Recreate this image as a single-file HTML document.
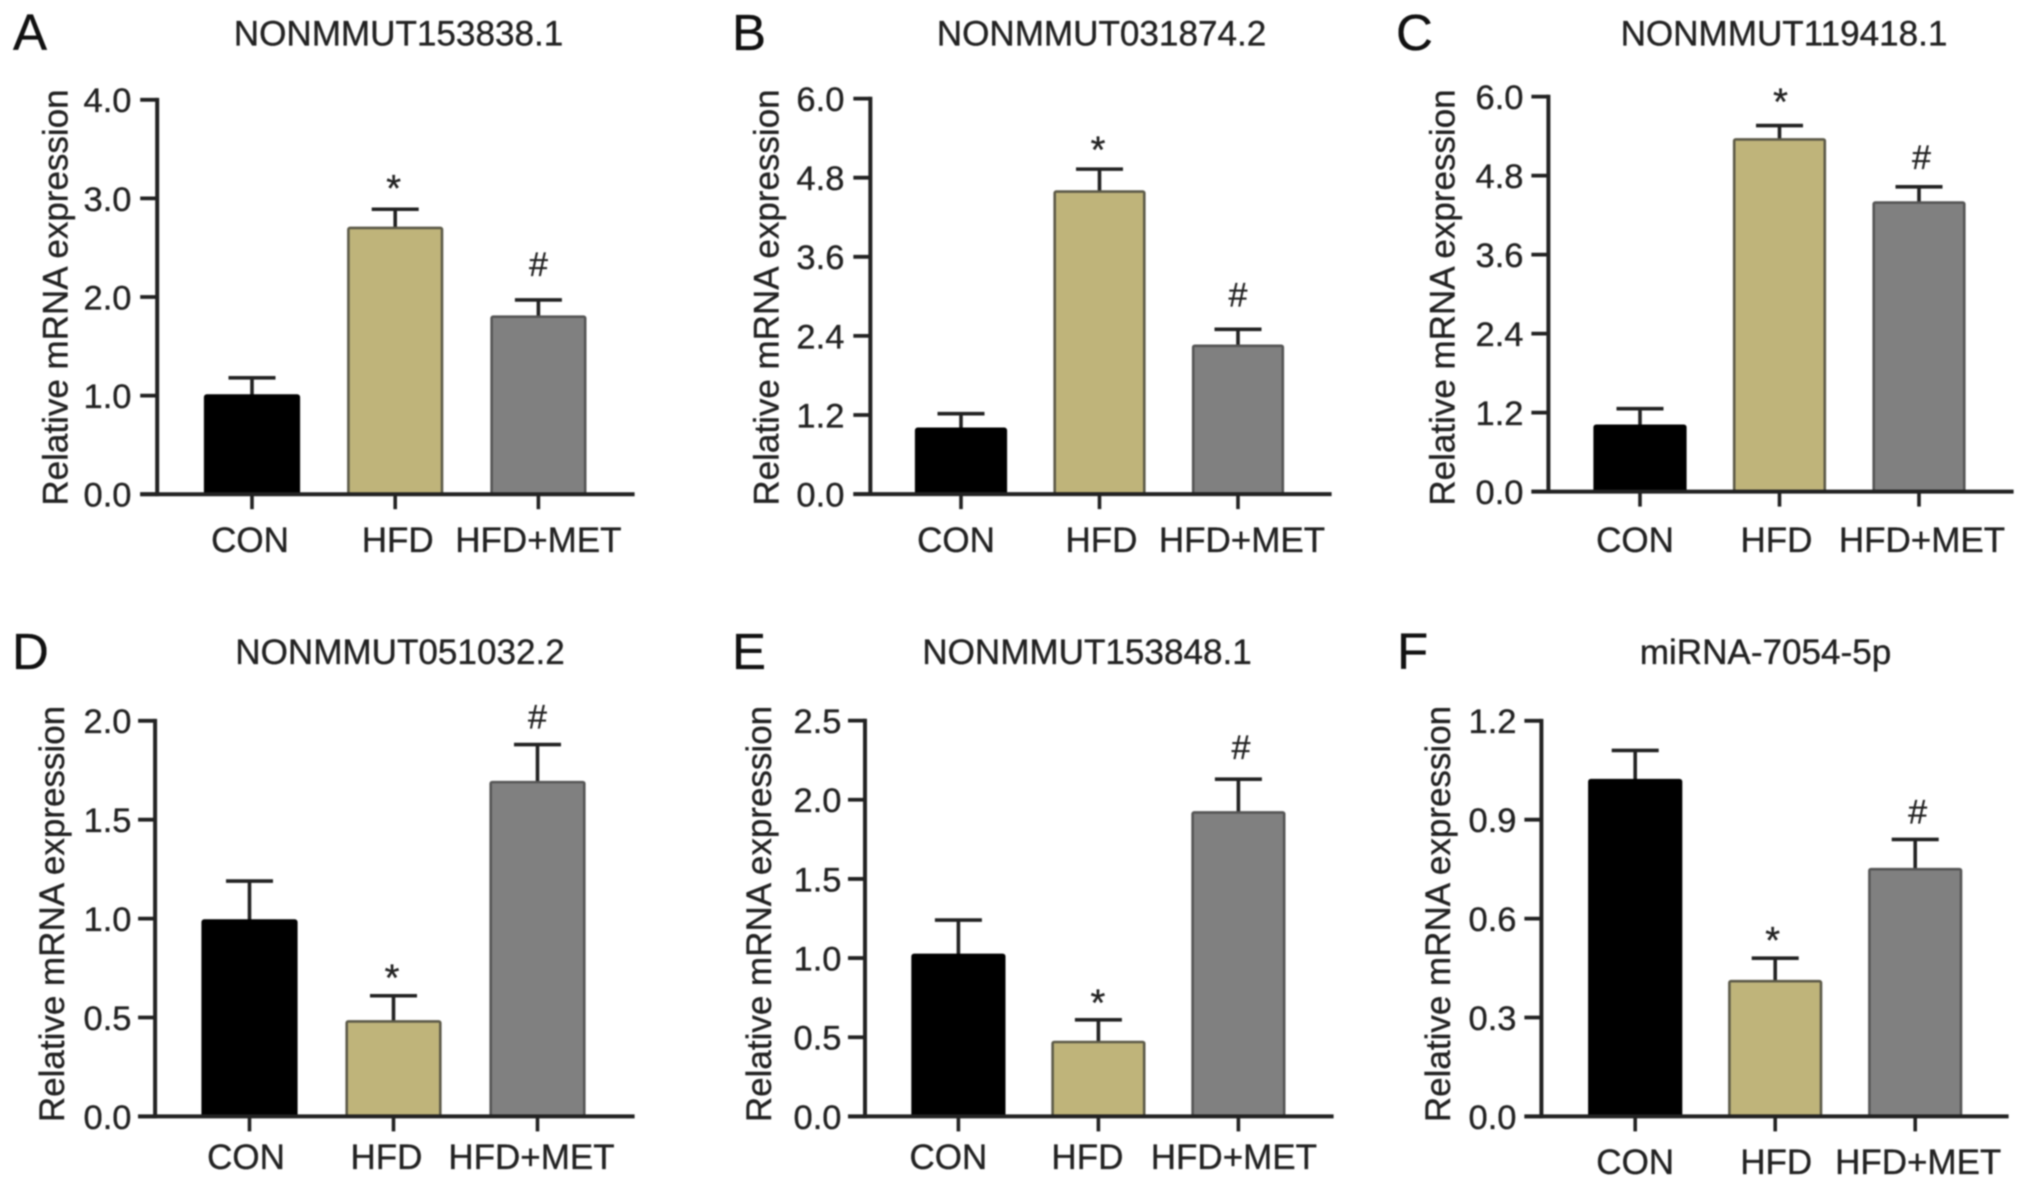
<!DOCTYPE html>
<html lang="en">
<head>
<meta charset="utf-8">
<title>Relative mRNA expression panels</title>
<style>
  html, body { margin: 0; padding: 0; background: #fff; }
  svg { display: block; filter: blur(0.7px); }
  text { font-family: "Liberation Sans", sans-serif; fill: #222; stroke: #222; stroke-width: 0.35px; }
  .title { font-size: 35.1px; text-anchor: middle; }
  .letter { font-size: 51px; fill: #111; stroke: #111; }
  .ytitle { font-size: 35px; text-anchor: middle; }
</style>
</head>
<body>
<svg id="figure" xmlns="http://www.w3.org/2000/svg" width="2032" height="1186" viewBox="0 0 2032 1186">
  <rect width="2032" height="1186" fill="#fff"/>

  <g id="panel-a">
    <text class="letter" x="13" y="50">A</text>
    <text class="title" x="398.5" y="45.5">NONMMUT153838.1</text>
    <text class="ytitle" transform="translate(67.7 297.5) rotate(-90)">Relative mRNA expression</text>
  </g>
  <g id="panel-b">
    <text class="letter" x="732" y="50">B</text>
    <text class="title" x="1101.5" y="45.5">NONMMUT031874.2</text>
    <text class="ytitle" transform="translate(778.5 297.5) rotate(-90)">Relative mRNA expression</text>
  </g>
  <g id="panel-c">
    <text class="letter" x="1396" y="50">C</text>
    <text class="title" x="1784" y="45.5">NONMMUT119418.1</text>
    <text class="ytitle" transform="translate(1454.7 297.5) rotate(-90)">Relative mRNA expression</text>
  </g>
  <g id="panel-d">
    <text class="letter" x="12" y="669.2">D</text>
    <text class="title" x="400" y="664.2">NONMMUT051032.2</text>
    <text class="ytitle" transform="translate(63.8 914) rotate(-90)">Relative mRNA expression</text>
  </g>
  <g id="panel-e">
    <text class="letter" x="732" y="669.2">E</text>
    <text class="title" x="1087" y="664.2">NONMMUT153848.1</text>
    <text class="ytitle" transform="translate(771 914) rotate(-90)">Relative mRNA expression</text>
  </g>
  <g id="panel-f">
    <text class="letter" x="1397" y="669.2">F</text>
    <text class="title" x="1765.5" y="664.2">miRNA-7054-5p</text>
    <text class="ytitle" transform="translate(1450 914) rotate(-90)">Relative mRNA expression</text>
  </g>
</svg>

<script>
// ---- Data ----
const categories = ['CON', 'HFD', 'HFD+MET'];

const meansA = [1.0, 2.7, 1.8];
const errorsA = [0.18, 0.19, 0.17];
const marksA = ['', '*', '#'];
const tickLabelsA = ['0.0', '1.0', '2.0', '3.0', '4.0'];

const meansB = [0.99, 4.59, 2.25];
const errorsB = [0.23, 0.34, 0.25];
const marksB = ['', '*', '#'];
const tickLabelsB = ['0.0', '1.2', '2.4', '3.6', '4.8', '6.0'];

const meansC = [1.0, 5.35, 4.39];
const errorsC = [0.26, 0.21, 0.24];
const marksC = ['', '*', '#'];
const tickLabelsC = ['0.0', '1.2', '2.4', '3.6', '4.8', '6.0'];

const meansD = [0.99, 0.48, 1.69];
const errorsD = [0.2, 0.13, 0.19];
const marksD = ['', '*', '#'];
const tickLabelsD = ['0.0', '0.5', '1.0', '1.5', '2.0'];

const meansE = [1.02, 0.47, 1.92];
const errorsE = [0.22, 0.14, 0.21];
const marksE = ['', '*', '#'];
const tickLabelsE = ['0.0', '0.5', '1.0', '1.5', '2.0', '2.5'];

const meansF = [1.02, 0.41, 0.75];
const errorsF = [0.09, 0.07, 0.09];
const marksF = ['', '*', '#'];
const tickLabelsF = ['0.0', '0.3', '0.6', '0.9', '1.2'];

// ---- Layout (pixels) ----
const panels = [
  { id: 'a', means: meansA, errors: errorsA, marks: marksA, ticks: tickLabelsA, axisX: 157.2, top: 99.8, base: 494.2, xEnd: 634.6, x0: 252, step: 143.2, barW: 96, tickRight: 131.5, labelY: 552, labelDx: [-2, 2.5, 0], starGap: 26, hashGap: 34, starDx: -1.5, hashDx: 0 },
  { id: 'b', means: meansB, errors: errorsB, marks: marksB, ticks: tickLabelsB, axisX: 870.35, top: 98.6, base: 494.1, xEnd: 1331.6, x0: 961, step: 138.5, barW: 92, tickRight: 844.4, labelY: 552, labelDx: [-5, 2, 4], starGap: 24.6, hashGap: 33, starDx: -1.5, hashDx: 0 },
  { id: 'c', means: meansC, errors: errorsC, marks: marksC, ticks: tickLabelsC, axisX: 1548.4, top: 96.6, base: 491.6, xEnd: 2013.6, x0: 1640, step: 139.5, barW: 93, tickRight: 1523.5, labelY: 552, labelDx: [-5, -3, 3], starGap: 29, hashGap: 28, starDx: 1, hashDx: 2.5 },
  { id: 'd', means: meansD, errors: errorsD, marks: marksD, ticks: tickLabelsD, axisX: 155.1, top: 720.8, base: 1116.4, xEnd: 634.6, x0: 249.5, step: 144, barW: 96, tickRight: 131.5, labelY: 1168.8, labelDx: [-3.5, -7, -6], starGap: 23, hashGap: 26, starDx: -1.5, hashDx: 0 },
  { id: 'e', means: meansE, errors: errorsE, marks: marksE, ticks: tickLabelsE, axisX: 865, top: 720.6, base: 1116.4, xEnd: 1333.6, x0: 958.4, step: 140, barW: 94, tickRight: 841.5, labelY: 1168.8, labelDx: [-10, -11, -4.5], starGap: 22.5, hashGap: 30, starDx: -0.5, hashDx: 2.5 },
  { id: 'f', means: meansF, errors: errorsF, marks: marksF, ticks: tickLabelsF, axisX: 1541.4, top: 720.8, base: 1116.4, xEnd: 2008.6, x0: 1635.2, step: 140, barW: 94, tickRight: 1516.5, labelY: 1173.8, labelDx: [0, 1, 3], starGap: 23, hashGap: 26, starDx: -2.5, hashDx: 2.5 }
];

const barFills = ['#000000', '#bfb47a', '#808080'];
const barStrokes = ['#000000', '#5c5a48', '#555555'];
const SVG_NS = 'http://www.w3.org/2000/svg';
const AXIS_COLOR = '#222';

function svgEl(tag, attrs, parent) {
  const el = document.createElementNS(SVG_NS, tag);
  for (const k in attrs) el.setAttribute(k, attrs[k]);
  parent.appendChild(el);
  return el;
}

function drawLine(parent, name, x1, y1, x2, y2, width, color) {
  const el = svgEl('line', { x1: x1, y1: y1, x2: x2, y2: y2, stroke: color, 'stroke-width': width }, parent);
  
  
  return el;
}

function drawText(parent, name, content, x, y, anchor, size) {
  const el = svgEl('text', { x: x, y: y, 'text-anchor': anchor, 'font-size': size }, parent);
  el.textContent = content;
  
  
  return el;
}

function drawPanel(p) {
  const root = document.getElementById('panel-' + p.id);
  const maxTick = parseFloat(p.ticks[p.ticks.length - 1]);
  const yScale = v => p.base - (v / maxTick) * (p.base - p.top);
  const xScale = i => p.x0 + i * p.step;

  // bars and error bars first, axes on top
  p.means.forEach((mean, i) => {
    const cx = xScale(i);
    const yTop = yScale(mean);
    const yErr = yScale(mean + p.errors[i]);
    drawLine(root, 'error-bar-stem-' + p.id + '-' + i, cx, yTop, cx, yErr, 3.6, AXIS_COLOR);
    drawLine(root, 'error-bar-cap-' + p.id + '-' + i, cx - 23.5, yErr, cx + 23.5, yErr, 3.6, AXIS_COLOR);

    const bar = svgEl('rect', {
      x: cx - p.barW / 2 + 1.2,
      y: yTop,
      rx: 1.5,
      width: p.barW - 2.4,
      height: Math.max(0, p.base - yTop),
      fill: barFills[i],
      stroke: barStrokes[i],
      'stroke-width': 2.6
    }, root);
    
    

    const mark = p.marks[i];
    if (mark === '*') {
      drawText(root, 'significance-star-' + p.id, mark, cx + p.starDx, yErr - p.starGap + 18, 'middle', 38);
    } else if (mark === '#') {
      drawText(root, 'significance-hash-' + p.id, mark, cx + p.hashDx, yErr - p.hashGap + 10, 'middle', 34);
    }

    // x ticks and category labels
    drawLine(root, 'x-tick-' + p.id + '-' + i, cx, p.base, cx, p.base + 15, 3.6, AXIS_COLOR);
    drawText(root, 'x-label-' + p.id + '-' + i, categories[i], cx + p.labelDx[i], p.labelY, 'middle', 35);
  });

  // y ticks and labels
  p.ticks.forEach((label, i) => {
    const y = yScale(parseFloat(label));
    drawLine(root, 'y-tick-' + p.id + '-' + i, p.axisX - 17, y, p.axisX, y, 3.8, AXIS_COLOR);
    drawText(root, 'y-tick-label-' + p.id + '-' + i, label, p.tickRight, y + 12.4, 'end', 34.5);
  });

  // axes
  drawLine(root, 'y-axis-' + p.id, p.axisX, p.top - 1.9, p.axisX, p.base + 1.9, 4, AXIS_COLOR);
  drawLine(root, 'x-axis-' + p.id, p.axisX - 17, p.base, p.xEnd, p.base, 4, AXIS_COLOR);
}

panels.forEach(drawPanel);
</script>
</body>
</html>
